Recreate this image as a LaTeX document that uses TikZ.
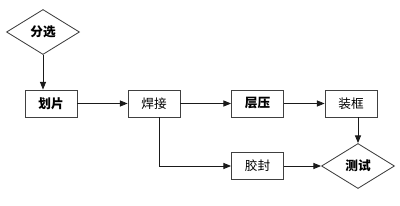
\documentclass[tikz,border=0pt]{standalone}
\usepackage{fontspec}
\usepackage{tikz}
\usetikzlibrary{arrows.meta,shapes.geometric}
\newfontfamily\cjk{Noto Sans CJK SC}
\definecolor{Ink}{HTML}{1A1A1A}
\definecolor{Frame}{HTML}{404040}
\tikzset{
  >={Triangle[length=1.9mm,width=1.5mm]},
  stepbox/.style={rectangle,draw=Frame,line width=.6pt,fill=white,minimum width=13mm,minimum height=6.75mm,inner sep=1pt,font=\cjk\fontsize{9}{10}\selectfont},
  boldbox/.style={stepbox,font=\cjk\fontsize{9}{10}\selectfont\bfseries},
  decide/.style={diamond,draw=Frame,line width=.6pt,fill=white,minimum width=18.25mm,minimum height=11.25mm,inner sep=0pt,font=\cjk\fontsize{9}{10}\selectfont\bfseries},
  flow/.style={->,line width=.6pt,draw=Ink}
}
\begin{document}
\begin{tikzpicture}[x=.25mm,y=-.25mm]
  \useasboundingbox (0,0) rectangle (400,206);
  % main line
  \node[decide] (fen) at (43,32) {分选};
  \node[boldbox] (hua) at (51,103.5) {划片};
  \node[stepbox] (han) at (154,103.5) {焊接};
  \node[boldbox] (ceng) at (257.5,103.5) {层压};
  \node[stepbox] (zhuang) at (351,103.5) {装框};
  % side branch
  \node[stepbox] (jiao) at (257.5,166) {胶封};
  \node[decide] (ce) at (358,166) {测试};
  \draw[flow] (fen.south) -- (fen.south |- hua.north);
  \draw[flow] (hua) -- (han);
  \draw[flow] (han) -- (ceng);
  \draw[flow] (ceng) -- (zhuang);
  \draw[flow] (zhuang.south -| ce.north) -- (ce.north);
  \draw[flow] ([xshift=5*.25mm]han.south) |- (jiao.west);
  \draw[flow] (jiao) -- (ce);
\end{tikzpicture}
\end{document}
